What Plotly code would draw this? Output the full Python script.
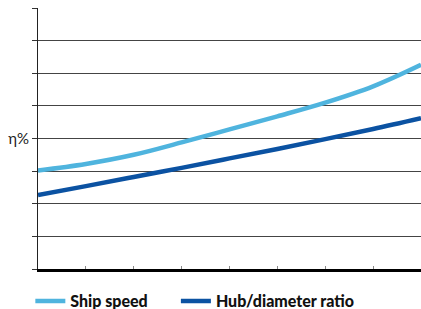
import plotly.graph_objects as go

x_vals = [0, 1, 2, 3, 4, 5, 6, 7, 8]
ship_speed = [3.02, 3.22, 3.50, 3.88, 4.28, 4.68, 5.10, 5.60, 6.26]
hub_ratio = [2.27, 2.54, 2.82, 3.10, 3.39, 3.68, 3.98, 4.29, 4.62]
y_tick_vals = [0, 1, 2, 3, 4, 5, 6, 7, 8]
y_tick_text = ["", "", "", "", "η%", "", "", "", ""]

fig = go.Figure()
fig.add_trace(go.Scatter(x=x_vals, y=ship_speed, mode="lines", name="Ship speed",
                         line=dict(color="#4fb4de", width=4.5, shape="spline"),
                         legend="legend"))
fig.add_trace(go.Scatter(x=x_vals, y=hub_ratio, mode="lines", name="Hub/diameter ratio",
                         line=dict(color="#0b52a2", width=4.5, shape="spline"),
                         legend="legend2"))

legend_font = dict(family="Lato", size=16, color="#111", weight=900)
fig.update_layout(
    width=421, height=309,
    margin=dict(l=38, r=0, t=8, b=40, autoexpand=False),
    paper_bgcolor="white", plot_bgcolor="white",
    showlegend=True,
    legend=dict(orientation="h", x=-0.02, xanchor="left", y=-0.123, yanchor="middle",
                font=legend_font, itemwidth=30),
    legend2=dict(orientation="h", x=0.36, xanchor="left", y=-0.123, yanchor="middle",
                 font=legend_font, itemwidth=30),
    font=dict(family="Lato", size=15, color="#222"),
)
fig.update_xaxes(range=[0, 8], tickvals=x_vals, ticktext=[""] * 9, ticks="inside",
                 ticklen=3, tickcolor="#888", tickwidth=1,
                 showline=True, linecolor="black", linewidth=3,
                 showgrid=False, zeroline=False, fixedrange=True)
fig.update_yaxes(range=[0, 8], tickvals=y_tick_vals, ticktext=y_tick_text, ticks="outside",
                 ticklen=5, tickcolor="#333", tickwidth=1,
                 showline=True, linecolor="#222", linewidth=1,
                 showgrid=True, gridcolor="#444", gridwidth=1, zeroline=False,
                 tickfont=dict(family="Lato", size=15, color="#222"), fixedrange=True)

fig.write_html("out.html", config={"displayModeBar": False},
               post_script="document.body.style.margin='0';document.body.style.overflow='hidden';")
